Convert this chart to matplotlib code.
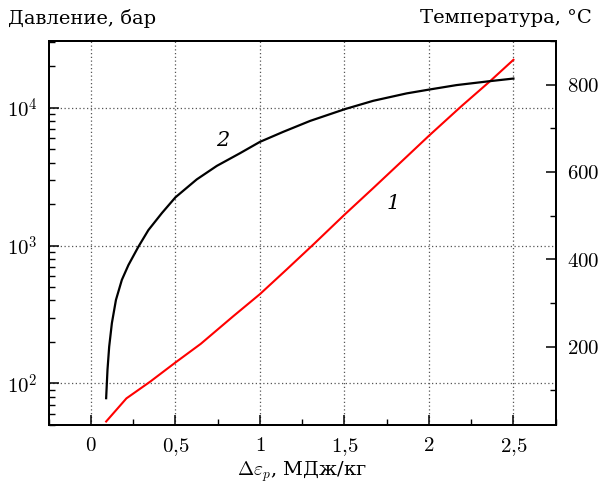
import numpy as np
import matplotlib
matplotlib.use("Agg")
import matplotlib.pyplot as plt
from matplotlib.ticker import MultipleLocator, LogLocator, NullFormatter, FixedLocator

plt.rcParams["font.family"] = ["DejaVu Serif"]
plt.rcParams["mathtext.fontset"] = "cm"

# curve 1 (red) - pressure, bar (left, log)
x_p = [0.09, 0.21, 0.35, 0.50, 0.65, 0.84, 1.00, 1.16, 1.32, 1.50,
       1.67, 1.87, 2.00, 2.19, 2.36, 2.50]
pressure = [53, 78, 103, 142, 194, 306, 445, 675, 1030, 1675,
            2612, 4436, 6266, 10210, 15520, 22280]

# curve 2 (black) - temperature, C (right, linear)
x_t = [0.090, 0.098, 0.108, 0.124, 0.148, 0.183, 0.222, 0.281, 0.340, 0.420,
       0.500, 0.626, 0.745, 0.882, 1.0, 1.138, 1.297, 1.503, 1.670, 1.868,
       2.005, 2.163, 2.36, 2.5]
temperature = [82, 147, 200, 254, 307, 353, 387, 429, 467, 506,
               542, 583, 614, 643, 669, 692, 717, 744, 763, 780,
               789, 799, 808, 814]

x_ticks = [0, 0.5, 1, 1.5, 2, 2.5]
x_labels = [r"$0$", r"$0{,}5$", r"$1$", r"$1{,}5$", r"$2$", r"$2{,}5$"]
t_ticks = [200, 400, 600, 800]

fig = plt.figure(figsize=(6.01, 4.84), dpi=100)
ax = fig.add_axes([0.081, 0.1219, 0.8436, 0.7934])
ax2 = ax.twinx()

ax.set_yscale("log")
ax.set_xlim(-0.25, 2.75)
ax.set_ylim(50, 3.05e4)
ax2.set_ylim(20.6, 900)

ax.plot(x_p, pressure, color="#ff0000", lw=1.5, zorder=3)
ax2.plot(x_t, temperature, color="black", lw=1.6, zorder=3)

ax.set_xticks(x_ticks)
ax.set_xticklabels(x_labels)
ax.xaxis.set_minor_locator(MultipleLocator(0.25))
ax.yaxis.set_major_locator(FixedLocator([1e2, 1e3, 1e4]))
ax.set_yticklabels([r"$10^2$", r"$10^3$", r"$10^4$"])
ax.yaxis.set_minor_locator(LogLocator(base=10, subs=np.arange(2, 10)))
ax.yaxis.set_minor_formatter(NullFormatter())
ax2.set_yticks(t_ticks)
ax2.set_yticklabels([rf"${t}$" for t in t_ticks])
ax2.yaxis.set_minor_locator(MultipleLocator(100))

ax.grid(True, which="major", linestyle=(0, (1, 2)), color="#555555", linewidth=0.9)

for a in (ax, ax2):
    a.tick_params(which="major", direction="in", length=7, width=1.1, labelsize=15, pad=8)
    a.tick_params(which="minor", direction="in", length=4, width=1.0)
    for s in a.spines.values():
        s.set_linewidth(1.4)

# curve numbers
ax.text(0.74, 5300, "2", fontsize=15, style="italic")
ax.text(1.75, 1850, "1", fontsize=15, style="italic")

fig.text(0.013, 0.962, "Давление, бар", fontsize=14, ha="left", va="center")
fig.text(0.985, 0.962, "Температура, °C", fontsize=14, ha="right", va="center")
ax.set_xlabel(r"$\Delta\varepsilon_p$, МДж/кг", fontsize=14, labelpad=1)

fig.savefig("out.png", dpi=100)
